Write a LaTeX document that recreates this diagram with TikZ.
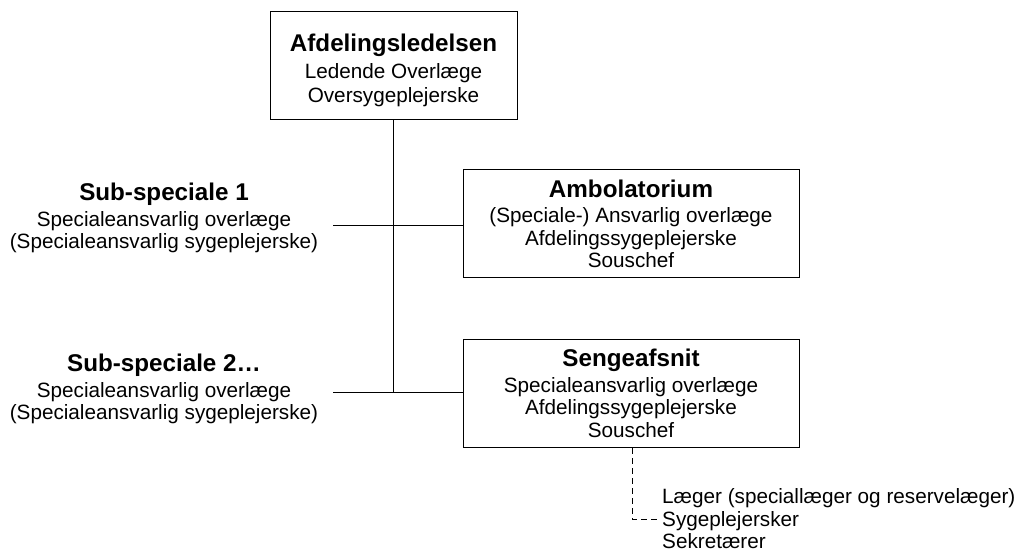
\documentclass[tikz,border=0pt]{standalone}
\usepackage{fontspec}
\setmainfont{Liberation Sans}
\newcommand\unittitle[1]{{\fontsize{24.2}{26}\selectfont\bfseries #1}}
\begin{document}
\begin{tikzpicture}[x=1pt,y=-1pt,
  body/.style={font=\fontsize{20.7}{22.5}\selectfont, align=center, inner sep=0pt},
  unit/.style={body, draw, line width=1pt, minimum height=108pt},
  link/.style={line width=1pt},
  dashlink/.style={line width=1pt, dash pattern=on 6pt off 4pt}]
\useasboundingbox (0,0) rectangle (1021,556);

% management box, its text set a little lower and looser
\node[unit, minimum width=247pt, text depth=0pt] (top) at (393.5,66) {};
\node[body] (toptext) at (393.5,70.5)
  {\unittitle{Afdelingsledelsen}\\[5pt] Ledende Overlæge\\[1.5pt] Oversygeplejerske};

% outpatient clinic and ward
\node[unit, minimum width=336pt] (amb) at (631,224)
  {\unittitle{Ambolatorium}\\[3pt] (Speciale-) Ansvarlig overlæge\\ Afdelingssygeplejerske\\ Souschef};
\node[unit, minimum width=336pt] (seng) at (631,393.5)
  {\unittitle{Sengeafsnit}\\[3pt] Specialeansvarlig overlæge\\ Afdelingssygeplejerske\\ Souschef};

% sub-specialties
\node[body] (sub1) at (164,218)
  {\unittitle{Sub-speciale 1}\\[3pt] Specialeansvarlig overlæge\\ (Specialeansvarlig sygeplejerske)};
\node[body] (sub2) at (164,389)
  {\unittitle{Sub-speciale 2…}\\[3pt] Specialeansvarlig overlæge\\ (Specialeansvarlig sygeplejerske)};

% staff list
\node[body, align=left, anchor=west] (staff) at (662,519)
  {Læger (speciallæger og reservelæger)\\ Sygeplejersker\\ Sekretærer};

% connectors
\coordinate (s1) at (333,226);
\coordinate (s2) at (333,392);
\coordinate (bend) at (632,519);
\draw[link] (top.south) -- (top.south |- s2);
\draw[link] (s1) -- (s1 -| amb.west);
\draw[link] (s2) -- (s2 -| seng.west);
\draw[dashlink] (seng.south -| bend) -- (bend) -- ([xshift=-5pt]staff.west |- bend);
\end{tikzpicture}
\end{document}
